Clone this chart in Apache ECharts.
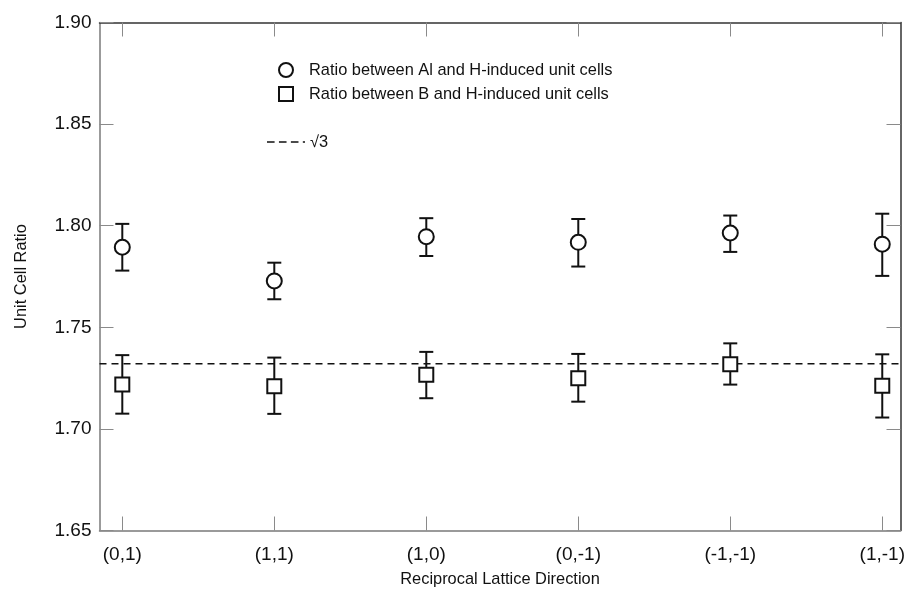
<!DOCTYPE html>
<html>
<head>
<meta charset="utf-8">
<script src="https://cdn.jsdelivr.net/npm/echarts@6/dist/echarts.min.js"></script>
<style>
  html, body { margin: 0; padding: 0; background: #fff; }
  #main { width: 909px; height: 603px; }
</style>
</head>
<body>
<div id="main"></div>
<script>
// categories
var directions = ['(0,1)', '(1,1)', '(1,0)', '(0,-1)', '(-1,-1)', '(1,-1)'];

// Al / H ratio (circles)
var alRatio = [1.7894, 1.7728, 1.7946, 1.7918, 1.7964, 1.7909];
var alLow   = [1.7779, 1.7638, 1.7851, 1.7799, 1.7871, 1.7753];
var alHigh  = [1.8009, 1.7818, 1.8037, 1.8033, 1.8050, 1.8059];

// B / H ratio (squares)
var bRatio = [1.7218, 1.7210, 1.7267, 1.7249, 1.7318, 1.7212];
var bLow   = [1.7075, 1.7074, 1.7151, 1.7134, 1.7218, 1.7056];
var bHigh  = [1.7363, 1.7351, 1.7379, 1.7369, 1.7421, 1.7367];

var sqrt3 = Math.sqrt(3);
var xMin = -0.15, xMax = 5.12;

var nameAl = 'Ratio between Al and H-induced unit cells';
var nameB = 'Ratio between B and H-induced unit cells';
var nameS = '\u221A3';

var font = 'Arial, "Liberation Sans", sans-serif';
var tickIdx = directions.map(function (d, i) { return i; });

function pts(vals) {
    return vals.map(function (v, i) { return [i, v]; });
}
function errData(low, high) {
    return low.map(function (v, i) { return [i, v, high[i]]; });
}

//误差棒
function renderErr(params, api) {
    var lo = api.coord([api.value(0), api.value(1)]);
    var hi = api.coord([api.value(0), api.value(2)]);
    var half = 7;
    var style = { stroke: '#111', lineWidth: 2 };
    return {
        type: 'group',
        children: [
            { type: 'line', shape: { x1: lo[0], y1: lo[1], x2: hi[0], y2: hi[1] }, style: style },
            { type: 'line', shape: { x1: lo[0] - half, y1: lo[1], x2: lo[0] + half, y2: lo[1] }, style: style },
            { type: 'line', shape: { x1: hi[0] - half, y1: hi[1], x2: hi[0] + half, y2: hi[1] }, style: style }
        ]
    };
}

var chart = echarts.init(document.getElementById('main'), null, { renderer: 'canvas' });

// dashed legend icon: three dashes and a dot
var dashIcon = 'path://M0,0H7V1.6H0Z M11,0H18V1.6H11Z M22,0H29V1.6H22Z M33,0H35V1.6H33Z';

var option = {
    backgroundColor: '#fff',
    animation: false,
    textStyle: { fontFamily: font },
    grid: { left: 99.5, right: 8.5, top: 22.5, bottom: 72.5 },
    legend: [{
        data: [nameAl, nameB],
        orient: 'vertical',
        left: 273,
        top: 57,
        itemWidth: 14,
        itemHeight: 14,
        itemGap: 8,
        textStyle: { fontSize: 16.4, color: '#111', fontFamily: font, padding: [0, 0, 0, 11] }
    }, {
        data: [{ name: nameS, icon: dashIcon }],
        left: 262,
        top: 129,
        itemWidth: 38,
        itemHeight: 2,
        textStyle: { fontSize: 16.4, color: '#111', fontFamily: font, padding: [0, 0, 0, 0] }
    }],
    xAxis: [{
        type: 'value',
        min: xMin,
        max: xMax,
        name: 'Reciprocal Lattice Direction',
        nameLocation: 'middle',
        nameGap: 41,
        nameTextStyle: { fontSize: 16.4, color: '#111', fontFamily: font },
        splitLine: { show: false },
        axisLine: { onZero: false, lineStyle: { color: '#7a7a7a', width: 1.5 } },
        axisTick: { inside: true, length: 14, customValues: tickIdx, lineStyle: { color: '#8a8a8a' } },
        axisLabel: {
            customValues: tickIdx,
            fontSize: 19,
            color: '#111',
            margin: 15,
            formatter: function (v) { return directions[Math.round(v)]; }
        }
    }, {
        type: 'value',
        position: 'top',
        min: xMin,
        max: xMax,
        splitLine: { show: false },
        axisLine: { show: true, onZero: false, lineStyle: { color: '#333', width: 1.5 } },
        axisTick: { inside: true, length: 14, customValues: tickIdx, lineStyle: { color: '#8a8a8a' } },
        axisLabel: { show: false }
    }],
    yAxis: [{
        type: 'value',
        min: 1.65,
        max: 1.90,
        interval: 0.05,
        name: 'Unit Cell Ratio',
        nameLocation: 'middle',
        nameGap: 70,
        nameTextStyle: { fontSize: 16.4, color: '#111', fontFamily: font },
        splitLine: { show: false },
        axisLine: { show: true, onZero: false, lineStyle: { color: '#7a7a7a', width: 1.5 } },
        axisTick: { inside: true, length: 14, lineStyle: { color: '#8a8a8a' } },
        axisLabel: {
            fontSize: 19,
            color: '#111',
            margin: 8,
            formatter: function (v) { return v.toFixed(2); }
        }
    }, {
        type: 'value',
        position: 'right',
        min: 1.65,
        max: 1.90,
        interval: 0.05,
        splitLine: { show: false },
        axisLine: { show: true, onZero: false, lineStyle: { color: '#333', width: 1.5 } },
        axisTick: { inside: true, length: 14, lineStyle: { color: '#8a8a8a' } },
        axisLabel: { show: false }
    }],
    series: [{
        name: nameS,
        type: 'line',
        data: [[xMin, sqrt3], [xMax, sqrt3]],
        symbol: 'none',
        z: 1,
        lineStyle: { color: '#111', width: 1.5, type: [7, 5] },
        itemStyle: { color: '#111' }
    }, {
        type: 'custom',
        renderItem: renderErr,
        data: errData(alLow, alHigh),
        encode: { x: 0, y: [1, 2] },
        z: 2
    }, {
        type: 'custom',
        renderItem: renderErr,
        data: errData(bLow, bHigh),
        encode: { x: 0, y: [1, 2] },
        z: 2
    }, {
        name: nameAl,
        type: 'scatter',
        symbol: 'circle',
        symbolSize: 15,
        data: pts(alRatio),
        z: 3,
        itemStyle: { color: '#fff', borderColor: '#111', borderWidth: 2, opacity: 1 }
    }, {
        name: nameB,
        type: 'scatter',
        symbol: 'rect',
        symbolSize: 14,
        data: pts(bRatio),
        z: 3,
        itemStyle: { color: '#fff', borderColor: '#111', borderWidth: 2, opacity: 1 }
    }]
};

chart.setOption(option);
</script>
</body>
</html>
